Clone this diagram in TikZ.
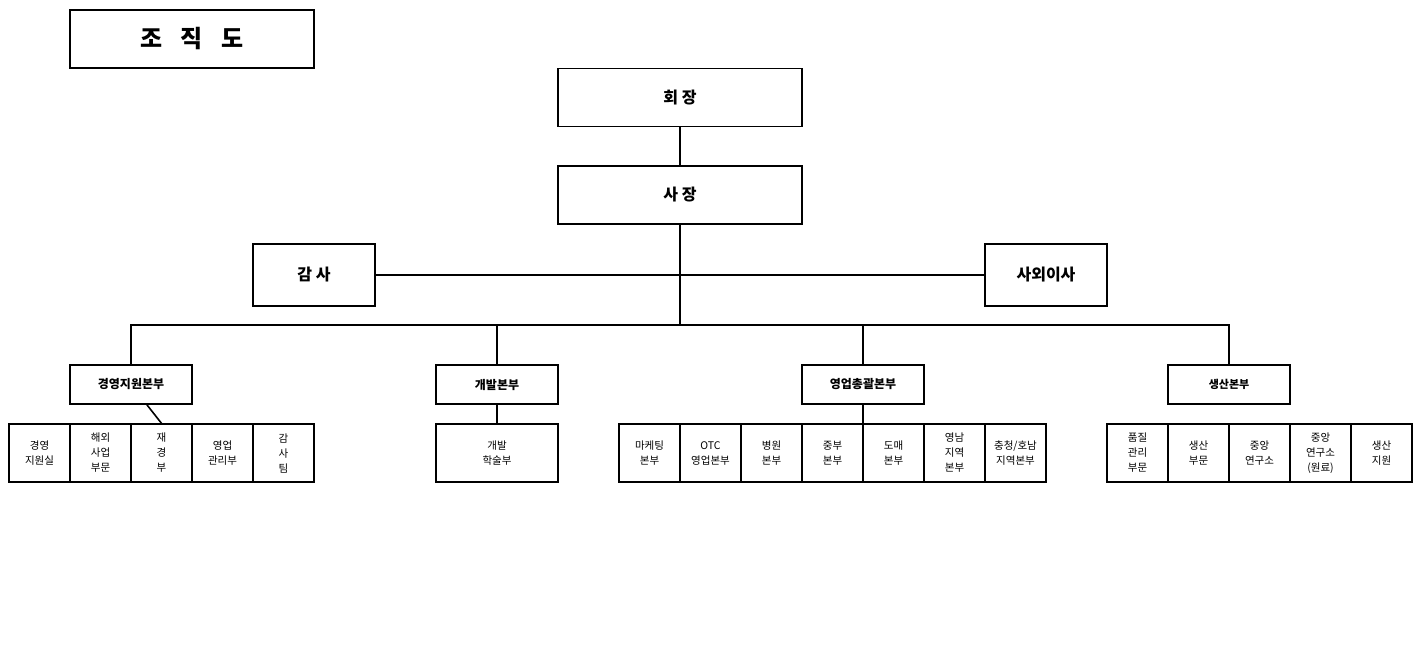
\documentclass[tikz,border=0pt]{standalone}
\usepackage{fontspec}
\setmainfont{Noto Sans CJK KR}
\begin{document}
\begin{tikzpicture}[x=1pt,y=-1pt,
 bx/.style={draw,line width=1.6pt,inner sep=0pt,align=center},
 big/.style={bx,minimum width=244pt,minimum height=58pt,font=\fontsize{16}{18}\selectfont\bfseries},
 mid/.style={bx,minimum width=122pt,minimum height=62pt,font=\fontsize{16}{18}\selectfont\bfseries},
 dept/.style={bx,minimum width=122pt,minimum height=39pt,font=\fontsize{12}{14}\selectfont\bfseries},
 sub/.style={bx,line width=1.3pt,minimum width=61pt,minimum height=58pt,font=\fontsize{10.5}{15}\selectfont},
 ln/.style={line width=1.6pt}]
\useasboundingbox (0,0) rectangle (1421,648);
\node[big,font=\fontsize{24}{26}\selectfont\bfseries] (t) at (192,39) {조\hspace{18pt}직\hspace{18pt}도};
\node[big] (hj) at (680,97.5) {회 장};
\node[big] (sj) at (680,195) {사 장};
\node[mid] (gs) at (314,275) {감 사};
\node[mid] (so) at (1046,275) {사외이사};
\coordinate (c1) at (680,275);
\coordinate (c2) at (680,325);
\draw[ln] (hj) -- (sj);
\draw[ln] (sj) -- (c2);
\draw[ln] (gs) -- (so);
\node[dept] (d1) at (131,384.5) {경영지원본부};
\node[dept] (d2) at (497,384.5) {개발본부};
\node[dept] (d3) at (863,384.5) {영업총괄본부};
\node[dept,font=\fontsize{11}{13}\selectfont\bfseries] (d4) at (1229,384.5) {생산본부};
\draw[ln] (d1.north) |- (c2) -| (d4.north);
\draw[ln] (d2.north) -- (d2.north|-c2);
\draw[ln] (d3.north) -- (d3.north|-c2);
% group 1
\node[sub] (a1) at (39.5,453) {경영\\지원실};
\node[sub] (a2) at (100.5,453) {해외\\사업\\부문};
\node[sub] (a3) at (161.5,453) {재\\경\\부};
\node[sub] (a4) at (222.5,453) {영업\\관리부};
\node[sub] (a5) at (283.5,453) {감\\사\\팀};
\draw[ln] (d1) -- (a3.north);
% group 2
\node[sub,minimum width=122pt] (b1) at (497,453) {개발\\학술부};
\draw[ln] (d2) -- (b1);
% group 3
\node[sub] (e1) at (649.5,453) {마케팅\\본부};
\node[sub] (e2) at (710.5,453) {OTC\\영업본부};
\node[sub] (e3) at (771.5,453) {병원\\본부};
\node[sub] (e4) at (832.5,453) {중부\\본부};
\node[sub] (e5) at (893.5,453) {도매\\본부};
\node[sub] (e6) at (954.5,453) {영남\\지역\\본부};
\node[sub] (e7) at (1015.5,453) {충청/호남\\지역본부};
\draw[ln] (d3.south) -- (d3.south|-e4.north);
% group 4
\node[sub] (f1) at (1137.5,453) {품질\\관리\\부문};
\node[sub] (f2) at (1198.5,453) {생산\\부문};
\node[sub] (f3) at (1259.5,453) {중앙\\연구소};
\node[sub] (f4) at (1320.5,453) {중앙\\연구소\\(원료)};
\node[sub] (f5) at (1381.5,453) {생산\\지원};
\end{tikzpicture}
\end{document}
